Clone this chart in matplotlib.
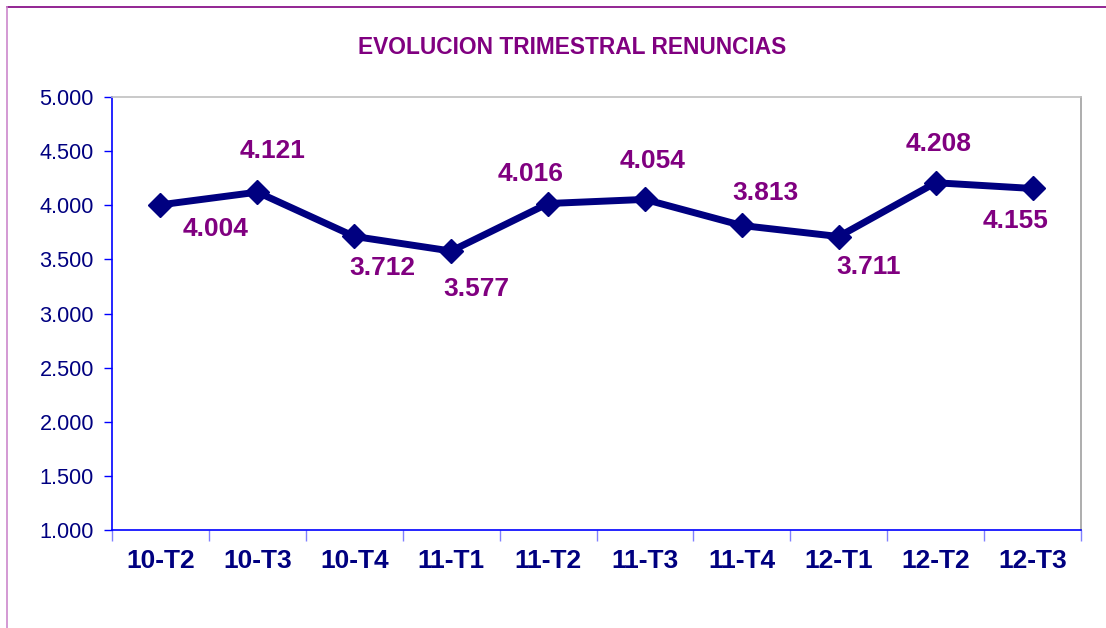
import numpy as np
import matplotlib.pyplot as plt
import matplotlib as mpl
from matplotlib.lines import Line2D
from matplotlib.ticker import FuncFormatter

mpl.rcParams['font.family'] = ['Liberation Sans', 'DejaVu Sans']

quarters = ['10-T2', '10-T3', '10-T4', '11-T1', '11-T2', '11-T3', '11-T4', '12-T1', '12-T2', '12-T3']
renuncias = [4004, 4121, 3712, 3577, 4016, 4054, 3813, 3711, 4208, 4155]
# label offsets (pixels) relative to each point
label_dx = [55, 15, 28, 25, -17, 8, 24, 30, 3, -17]
label_dy = [-24, 41, -32, -38, 30, 38, 32, -30, 39, -33]

navy = '#000080'
purple = '#800080'

fig = plt.figure(figsize=(11.06, 6.28), dpi=100)
ax = fig.add_axes([112 / 1106, 1 - 530 / 628, 969 / 1106, 433 / 628])

x = np.arange(len(quarters))
ax.plot(x, renuncias, color=navy, lw=5, marker='D', markersize=12,
        markerfacecolor=navy, markeredgecolor=navy, solid_joinstyle='miter')

for xi, v, dx, dy in zip(x, renuncias, label_dx, label_dy):
    ax.annotate(f'{v/1000:.3f}', (xi, v), xytext=(dx, dy), textcoords='offset pixels',
                ha='center', va='center', fontsize=19, fontweight='bold', color=purple)

ax.set_xlim(-0.5, len(quarters) - 0.5)
ax.set_ylim(1000, 5000)
ax.set_yticks(np.arange(1000, 5001, 500))
ax.yaxis.set_major_formatter(FuncFormatter(lambda v, p: f'{v/1000:.3f}'))
ax.tick_params(axis='y', colors='blue', length=6, width=1, labelsize=15.6,
               labelcolor=navy, pad=7)

ax.set_xticks(x)
ax.set_xticklabels(quarters, fontsize=19, fontweight='bold', color=navy)
ax.set_xticks(np.arange(-0.5, len(quarters)), minor=True)
ax.tick_params(axis='x', which='major', length=0, pad=14)
ax.tick_params(axis='x', which='minor', length=8, width=1, colors='#8080ff')

ax.spines['left'].set_color('blue')
ax.spines['bottom'].set_color('blue')
ax.spines['top'].set_color('#c0c0c0')
ax.spines['right'].set_color('#a0a0a0')
for s in ax.spines.values():
    s.set_linewidth(1.2)

fig.text(572 / 1106, 1 - 47 / 628, 'EVOLUCION TRIMESTRAL RENUNCIAS', ha='center', va='center',
         fontsize=16.4, fontweight='bold', color=purple)

# outer chart frame
fig.add_artist(Line2D([7 / 1106, 1], [1 - 7 / 628, 1 - 7 / 628], color=purple, lw=1.2,
                      transform=fig.transFigure))
fig.add_artist(Line2D([7 / 1106, 7 / 1106], [0, 1 - 7 / 628], color='#cc88cc', lw=1.2,
                      transform=fig.transFigure))

fig.savefig('out.png', dpi=100)
